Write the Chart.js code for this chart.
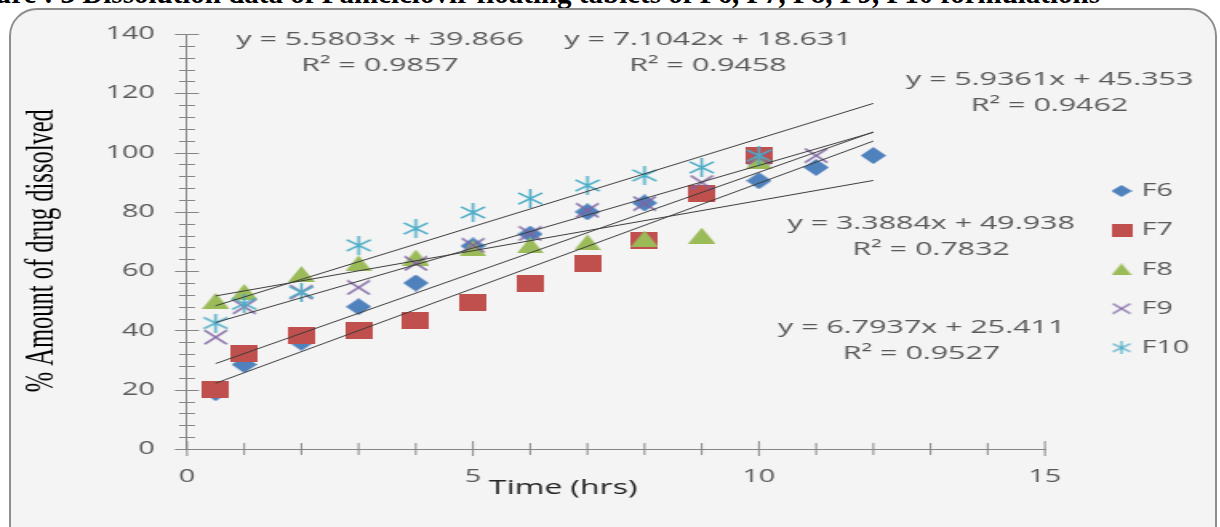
<!DOCTYPE html>
<html>
<head>
<meta charset="utf-8">
<script src="https://cdn.jsdelivr.net/npm/chart.js@4.4.1/dist/chart.umd.min.js"></script>
<style>
  html, body { margin: 0; padding: 0; background: #fff; width: 1220px; height: 527px; overflow: hidden; position: relative; }
  #caption { position: absolute; top: -21px; right: 120px; font: bold 29px "Liberation Serif", "Times New Roman", serif; line-height: 29px; white-space: nowrap; color: #000; }
  #frame { position: absolute; left: 9px; top: 8px; width: 1204px; height: 580px; border: 2px solid #8e8e8e; border-radius: 28px; background: #f4f4f4; }
  /* the source picture is stretched sideways, so the chart is drawn narrow and widened */
  #wrap { position: absolute; left: 0; top: 0; width: 763px; height: 527px; transform: scaleX(1.6); transform-origin: 0 0; }
</style>
</head>
<body>
<div id="caption">Figure : 3 Dissolution data of Famciclovir floating tablets of F6, F7, F8, F9, F10 formulations</div>
<div id="frame"></div>
<div id="wrap"><canvas id="chart" width="763" height="527"></canvas></div>
<script>
// time points (hrs)
const times = [0.5, 1, 2, 3, 4, 5, 6, 7, 8, 9, 10, 11, 12];

// % drug dissolved per formulation (null = no point)
const f6 = [19, 28.5, 36, 48, 56, 68.5, 72.5, 80, 83, null, 90.5, 95, 99];
const f7 = [20, 32.3, 38.4, 40, 43.5, 49.5, 56, 62.6, 70.4, 86.2, 99];
const f8 = [50, 53, 59, 62.6, 64.6, 67.7, 68.7, 69.7, 71, 72, 97];
const f9 = [37.7, 48, 52.9, 54.5, 62.6, 68.7, 72.7, 80.5, 82.8, 89.9, 98.3, 99];
const f10 = [42.5, 49, 52.9, 68.7, 74.4, 79.8, 84.5, 88.9, 92.3, 95, 99];

const seriesNames = ['F6', 'F7', 'F8', 'F9', 'F10'];
const seriesValues = [f6, f7, f8, f9, f10];

// linear trendlines as printed on the chart
const trendSlopes = [6.7937, 7.1042, 3.3884, 5.5803, 5.9361];
const trendIntercepts = [25.411, 18.631, 49.938, 39.866, 45.353];
const trendR2 = ['0.9527', '0.9458', '0.7832', '0.9857', '0.9462'];
const trendX = [0.5, 12];

// axis ticks
const xTicks = [0, 5, 10, 15];
const yTicks = [0, 20, 40, 60, 80, 100, 120, 140];
const xMinorStep = 1;
const yMinorStep = 4;

// styling
const colors = ['#4f81bd', '#c0504d', '#9bbb59', '#8064a2', '#4bacc6'];
const shapes = ['diamond', 'square', 'triangle', 'cross', 'asterisk'];
const gray = '#595959';
const axisColor = '#868686';
// where each equation label sits (unscaled canvas px)
const labelPlaces = [[576, 328], [442.5, 40], [582, 224], [237.5, 40], [656, 80]];

function markerCanvas(shape, color, w, h, lw) {
    const c = document.createElement('canvas');
    c.width = w;
    c.height = h;
    const g = c.getContext('2d');
    g.fillStyle = color;
    g.strokeStyle = color;
    g.lineWidth = lw;
    g.beginPath();
    if (shape === 'diamond') {
        g.moveTo(w / 2, 0); g.lineTo(w, h / 2); g.lineTo(w / 2, h); g.lineTo(0, h / 2);
        g.closePath(); g.fill();
    } else if (shape === 'square') {
        g.fillRect(0, 0, w, h);
    } else if (shape === 'triangle') {
        g.moveTo(w / 2, 0); g.lineTo(w, h); g.lineTo(0, h);
        g.closePath(); g.fill();
    } else if (shape === 'cross') {
        g.moveTo(1, 1); g.lineTo(w - 1, h - 1);
        g.moveTo(w - 1, 1); g.lineTo(1, h - 1);
        g.stroke();
    } else {
        g.moveTo(w / 2, 0); g.lineTo(w / 2, h);
        g.moveTo(1, h * 0.2); g.lineTo(w - 1, h * 0.8);
        g.moveTo(w - 1, h * 0.2); g.lineTo(1, h * 0.8);
        g.stroke();
    }
    return c;
}

const pointSizes = { diamond: [16, 17], square: [17, 17], triangle: [17, 16], cross: [16, 16], asterisk: [17, 19] };
const legendSizes = { diamond: [13, 12], square: [13, 13], triangle: [13, 12], cross: [13, 12], asterisk: [13, 13] };

const pointImages = shapes.map((s, i) => markerCanvas(s, colors[i], pointSizes[s][0], pointSizes[s][1], 1.6));
const legendImages = shapes.map((s, i) => markerCanvas(s, colors[i], legendSizes[s][0], legendSizes[s][1], 1.2));

const datasets = [];
seriesNames.forEach((name, i) => {
    const pts = [];
    seriesValues[i].forEach((v, j) => {
        if (v !== null) pts.push({ x: times[j], y: v });
    });
    datasets.push({
        label: name,
        data: pts,
        pointStyle: pointImages[i],
        pointRadius: 8,
        showLine: false,
        order: 5 - i
    });
});
trendSlopes.forEach((m, i) => {
    datasets.push({
        label: seriesNames[i] + ' trend',
        data: trendX.map(x => ({ x: x, y: m * x + trendIntercepts[i] })),
        showLine: true,
        borderColor: '#3c3c3c',
        borderWidth: 1,
        pointRadius: 0,
        fill: false,
        order: 0
    });
});

// cross tick marks on both axes
const crossTicks = {
    id: 'crossTicks',
    beforeDatasetsDraw(chart) {
        const { ctx, chartArea: a, scales: { x, y } } = chart;
        ctx.save();
        ctx.strokeStyle = axisColor;
        ctx.lineWidth = 1;
        ctx.beginPath();
        for (let v = y.min; v <= y.max; v += yMinorStep) {
            const py = Math.round(y.getPixelForValue(v)) + 0.5;
            const len = yTicks.includes(v) ? 7.5 : 5;
            ctx.moveTo(a.left - len, py);
            ctx.lineTo(a.left + len, py);
        }
        for (let v = x.min; v <= x.max; v += xMinorStep) {
            const px = x.getPixelForValue(v);
            const major = xTicks.includes(v);
            ctx.moveTo(px, a.bottom - (major ? 8 : 6));
            ctx.lineTo(px, a.bottom + (major ? 7 : 6));
        }
        ctx.stroke();
        ctx.restore();
    }
};

// trendline equations, axis title and legend
const extras = {
    id: 'extras',
    afterDraw(chart) {
        const ctx = chart.ctx;
        ctx.save();
        ctx.fillStyle = gray;
        ctx.font = '19px "Open Sans"';
        ctx.textAlign = 'center';
        ctx.textBaseline = 'middle';
        trendSlopes.forEach((m, i) => {
            const [lx, ly] = labelPlaces[i];
            ctx.fillText('y = ' + m + 'x + ' + trendIntercepts[i], lx, ly);
            ctx.fillText('R\u00b2 = ' + trendR2[i], lx, ly + 26);
        });

        ctx.fillStyle = '#222';
        ctx.font = '20px "Open Sans"';
        ctx.fillText('Time (hrs)', 352, 488);

        ctx.font = '18px "Open Sans"';
        ctx.textAlign = 'left';
        ctx.fillStyle = gray;
        seriesNames.forEach((name, i) => {
            const cy = 191 + i * 39.2;
            const img = legendImages[i];
            ctx.drawImage(img, 701 - img.width / 2, cy - img.height / 2);
            ctx.fillText(name, 713.5, cy);
        });
        ctx.restore();
    }
};

const tickFont = { family: 'Open Sans', size: 18 };

new Chart(document.getElementById('chart'), {
    type: 'scatter',
    data: { datasets: datasets },
    options: {
        responsive: false,
        animation: false,
        layout: { padding: { left: 0, top: 34, right: 109.9, bottom: 0 } },
        plugins: {
            legend: { display: false },
            tooltip: { enabled: false }
        },
        scales: {
            x: {
                type: 'linear',
                min: xTicks[0],
                max: xTicks[xTicks.length - 1],
                afterBuildTicks: s => { s.ticks = xTicks.map(v => ({ value: v })); },
                afterFit: s => { s.height = 78; },
                grid: { display: false, drawTicks: false },
                border: { display: true, color: axisColor, width: 1 },
                ticks: { padding: 17, color: gray, font: tickFont }
            },
            y: {
                type: 'linear',
                min: yTicks[0],
                max: yTicks[yTicks.length - 1],
                afterBuildTicks: s => { s.ticks = yTicks.map(v => ({ value: v })); },
                afterFit: s => { s.width = 116.9; },
                grid: { display: false, drawTicks: false },
                border: { display: true, color: axisColor, width: 1 },
                ticks: { padding: 20, color: gray, font: tickFont },
                title: {
                    display: true,
                    text: '% Amount of drug dissolved   ',
                    color: '#000',
                    font: { family: 'Liberation Serif', size: 24.5 },
                    padding: { top: 11.5, bottom: 0 }
                }
            }
        }
    },
    plugins: [crossTicks, extras]
});
</script>
</body>
</html>
